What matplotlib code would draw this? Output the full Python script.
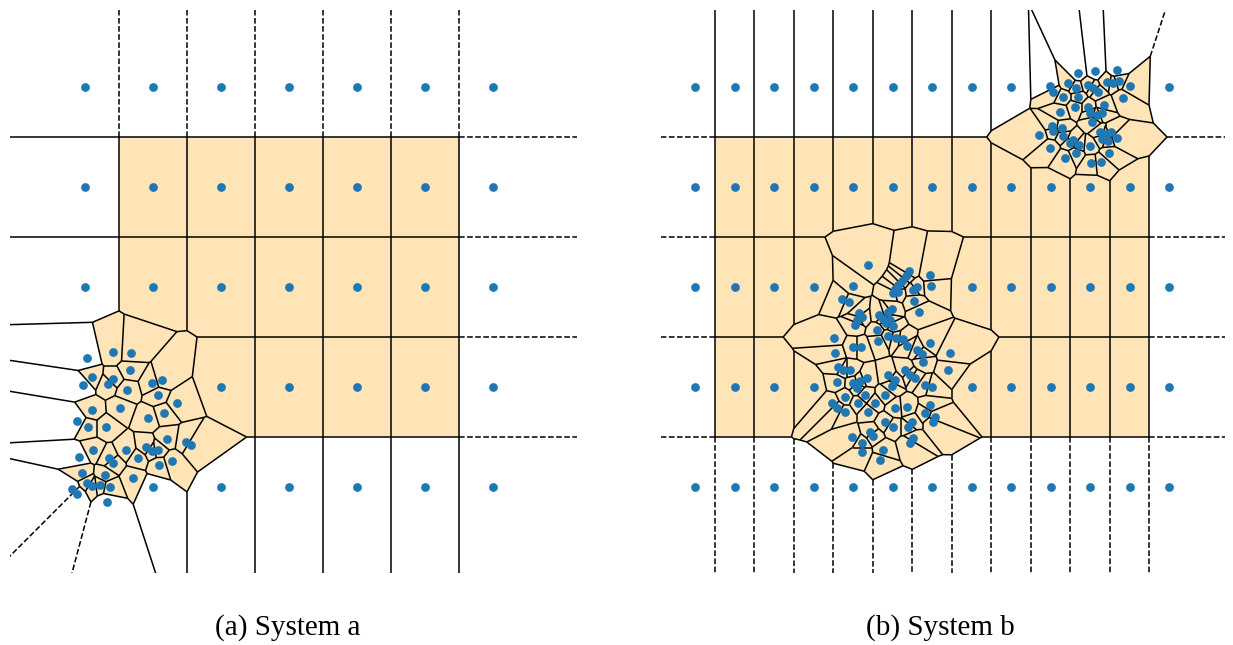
import numpy as np
import matplotlib
matplotlib.use("Agg")
import matplotlib.pyplot as plt
from matplotlib.collections import LineCollection

plt.rcParams["font.family"] = ["Liberation Serif", "DejaVu Serif"]

W, H = 1233, 645

# background lattice, one row spacing = 100 units
ROWS = [0, 100, 200, 300, 400]
COLS_A = [0, 68, 136, 204, 272, 340, 408]
COLS_B = [0, 39.5, 79, 118.5, 158, 197.5, 237, 276.5, 316, 355.5, 395, 434.5, 474]

# lattice sites taken over by particles
EMPTY_A = [(0, 0), (0, 100), (68, 100)]
EMPTY_B = [(158, 100), (197.5, 100), (237, 100),
           (158, 200), (197.5, 200), (237, 200),
           (355.5, 400), (395, 400), (434.5, 400)]

# particle positions
CLUSTER_A = [
    (2, 129), (28, 135), (46, 134), (45, 117), (7, 110), (-2, 102), (23, 103),
    (28, 108), (42, 97), (67, 104), (77, 107), (73, 92), (92, 84), (7, 77),
    (35, 79), (63, 69), (79, 74), (-8, 66), (3, 60), (21, 60), (82, 48),
    (101, 45), (106, 42), (61, 40), (67, 36), (73, 37), (41, 37), (8, 37),
    (-6, 30), (24, 29), (28, 24), (53, 29), (74, 22), (87, 26), (-3, 14),
    (20, 12), (48, 9), (-13, -2), (-8, -7), (2, 4), (7, 1), (15, 2), (25, 0),
    (22, -15),
]

CLUSTER_B1 = [
    (173, 222), (214, 216), (211, 211), (207, 206), (203, 202), (200, 198),
    (198, 194), (203, 195), (235, 212), (236, 201), (222, 200), (218, 197),
    (158, 201), (147, 188), (154, 185), (219, 186), (224, 175), (197, 178),
    (193, 175), (164, 174), (167, 170), (162, 167), (160, 162), (184, 172),
    (188, 168), (191, 164), (195, 167), (182, 157), (198, 161), (139, 149),
    (193, 151), (201, 149), (208, 148), (212, 141), (222, 137), (227, 133),
    (235, 144), (158, 140), (166, 140), (183, 146), (140, 134), (255, 134),
    (228, 125), (253, 117), (143, 120), (148, 117), (155, 117), (142, 105),
    (158, 104), (165, 106), (172, 109), (162, 99), (193, 112), (200, 107),
    (197, 101), (210, 117), (215, 112), (220, 109), (230, 102), (237, 100),
    (150, 90), (170, 92), (190, 92), (137, 84), (142, 79), (150, 75),
    (163, 84), (180, 84), (173, 75), (200, 79), (212, 80), (235, 82),
    (230, 74), (240, 70), (238, 65), (217, 65), (213, 60), (190, 65),
    (198, 60), (157, 50), (175, 55), (178, 51), (218, 49), (215, 44),
    (167, 44), (188, 37), (167, 35), (185, 27),
]

CLUSTER_B2 = [
    (383, 414), (400, 416), (422, 417), (355, 401), (358, 395), (373, 404),
    (381, 399), (393, 402), (398, 399), (403, 395), (412, 405), (418, 404),
    (424, 406), (435, 401), (368, 390), (383, 390), (428, 389), (409, 382),
    (380, 380), (393, 380), (395, 374), (402, 372), (407, 374), (397, 365),
    (365, 375), (357, 361), (358, 356), (367, 359), (344, 352), (368, 351),
    (378, 347), (375, 344), (384, 342), (405, 355), (411, 353), (416, 355),
    (407, 348), (413, 346), (422, 349), (355, 339), (395, 341), (370, 329),
    (381, 334), (414, 334), (396, 324), (406, 325),
]

VIEW_A = (-75, 492, -86, 477)
VIEW_B = (-34, 530, -86, 477)

FILL = "#fee4b6"
DOT = "#1f77b4"
BIG = 1e6


def lattice(cols, rows, empty):
    return [(x, y) for y in rows for x in cols if (x, y) not in empty]


def clip(poly, nx, ny, c, lab, eps=1e-7):
    # keep the half plane n.x <= c, tagging the new edge with the neighbour index
    out = []
    m = len(poly)
    for k in range(m):
        (ax_, ay_), la = poly[k]
        (bx, by), _ = poly[(k + 1) % m]
        da = ax_ * nx + ay_ * ny - c
        db = bx * nx + by * ny - c
        if da <= eps:
            out.append(((ax_, ay_), la))
            if db > eps:
                t = da / (da - db)
                out.append(((ax_ + t * (bx - ax_), ay_ + t * (by - ay_)), lab))
        elif db <= eps:
            t = da / (da - db)
            out.append(((ax_ + t * (bx - ax_), ay_ + t * (by - ay_)), la))
    return out


def voronoi(points):
    pts = np.asarray(points, float)
    cx, cy = pts.mean(axis=0)
    box = [((cx - BIG, cy - BIG), -1), ((cx + BIG, cy - BIG), -1),
           ((cx + BIG, cy + BIG), -1), ((cx - BIG, cy + BIG), -1)]
    cells = []
    for i in range(len(pts)):
        px, py = pts[i]
        d2 = ((pts - pts[i]) ** 2).sum(axis=1)
        poly = list(box)
        for j in np.argsort(d2):
            if j == i:
                continue
            r2 = max((vx - px) ** 2 + (vy - py) ** 2 for (vx, vy), _ in poly)
            if d2[j] / 4 > r2:
                break
            qx, qy = pts[j]
            dx, dy = qx - px, qy - py
            nrm = np.hypot(dx, dy)
            nx, ny = dx / nrm, dy / nrm
            c = (qx + px) / 2 * nx + (qy + py) / 2 * ny
            poly = clip(poly, nx, ny, c, int(j))
        cells.append(poly)
    return pts, cells, (cx, cy)


def on_box(v, centre):
    return max(abs(v[0] - centre[0]), abs(v[1] - centre[1])) > BIG * 0.999


def ridge_segments(cells, centre, ray=3000):
    solid, dashed = [], []
    for i, poly in enumerate(cells):
        m = len(poly)
        for k in range(m):
            a, lab = poly[k]
            b = poly[(k + 1) % m][0]
            if lab <= i:
                continue
            if np.hypot(b[0] - a[0], b[1] - a[1]) < 1e-6:
                continue
            ia, ib = on_box(a, centre), on_box(b, centre)
            if ia and ib:
                continue
            if not ia and not ib:
                solid.append([a, b])
            else:
                f, o = (b, a) if ia else (a, b)
                d = np.array(o) - np.array(f)
                d /= np.linalg.norm(d)
                dashed.append([f, (f[0] + d[0] * ray, f[1] + d[1] * ray)])
    return solid, dashed


def draw_panel(ax, points, view):
    pts, cells, centre = voronoi(points)
    x0, x1, y0, y1 = view
    for poly in cells:
        vs = [v for v, _ in poly]
        if any(on_box(v, centre) for v in vs):
            continue
        if all(x0 <= x <= x1 and y0 <= y <= y1 for x, y in vs):
            ax.fill([v[0] for v in vs], [v[1] for v in vs], color=FILL, lw=0, zorder=0)
    solid, dashed = ridge_segments(cells, centre)
    ax.add_collection(LineCollection(solid, colors="k", linewidths=1.1, zorder=1))
    ax.add_collection(LineCollection(dashed, colors="k", linewidths=1.1,
                                     linestyles="dashed", zorder=1))
    ax.plot(pts[:, 0], pts[:, 1], "o", ms=6.3, color=DOT, mew=0, zorder=2)
    ax.set_xlim(x0, x1)
    ax.set_ylim(y0, y1)
    ax.axis("off")


fig = plt.figure(figsize=(W / 100, H / 100), dpi=100)

ax_a = fig.add_axes([10 / W, 72 / H, 567 / W, 563 / H])
draw_panel(ax_a, lattice(COLS_A, ROWS, EMPTY_A) + CLUSTER_A, VIEW_A)

ax_b = fig.add_axes([661 / W, 72 / H, 564 / W, 563 / H])
draw_panel(ax_b, lattice(COLS_B, ROWS, EMPTY_B) + CLUSTER_B1 + CLUSTER_B2, VIEW_B)

fig.text(288 / W, 1 - 628 / H, "(a) System a", ha="center", va="center", fontsize=21)
fig.text(940 / W, 1 - 628 / H, "(b) System b", ha="center", va="center", fontsize=21)

fig.savefig("out.png", dpi=100)
